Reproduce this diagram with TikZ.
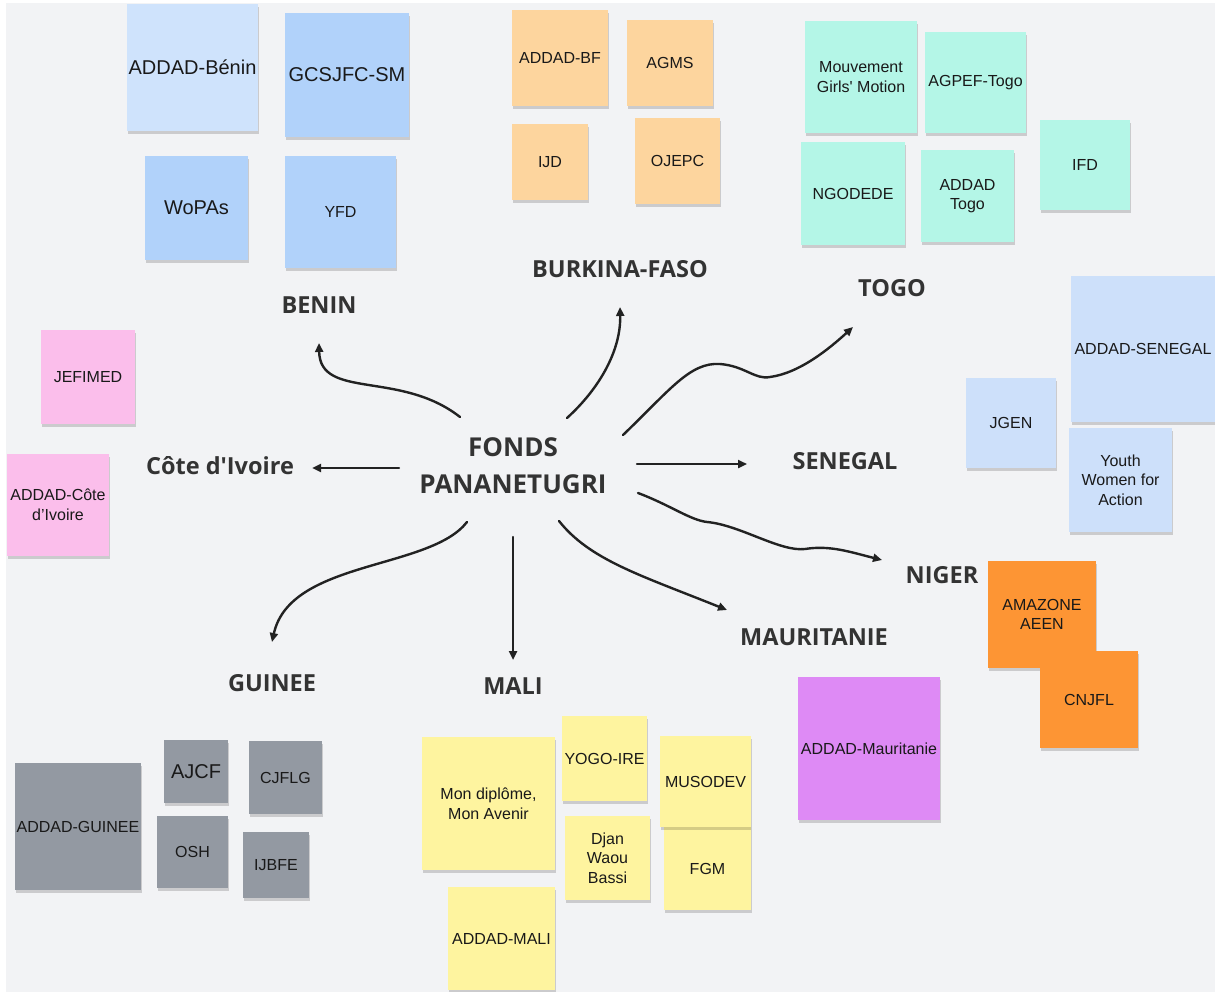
\documentclass[tikz,border=0pt]{standalone}
\usepackage{fontspec}
\setmainfont{Liberation Sans}
\newfontfamily\plainsans{Liberation Sans}
\newfontfamily\labelfont{Open Sans}
\usetikzlibrary{arrows.meta,shadows}
\definecolor{bg}{HTML}{F2F3F5}
\definecolor{bluelight}{HTML}{CFE3FC}
\definecolor{bluemid}{HTML}{B1D2FA}
\definecolor{peach}{HTML}{FDD59E}
\definecolor{mint}{HTML}{B4F6E7}
\definecolor{senblue}{HTML}{CDE0FA}
\definecolor{pinknote}{HTML}{FBBEEB}
\definecolor{orangenote}{HTML}{FD9534}
\definecolor{purplenote}{HTML}{DE8AF5}
\definecolor{graynote}{HTML}{9399A2}
\definecolor{yellownote}{HTML}{FEF49F}
\definecolor{labelgray}{HTML}{333333}
\definecolor{arrowgray}{HTML}{222222}
\tikzset{
  note/.style={draw=none, inner sep=2pt, align=center, text=black!90,
    font=\fontsize{16}{19.5}\selectfont,
    drop shadow={shadow xshift=1pt, shadow yshift=-3pt, fill=black, opacity=0.16}},
  bignote/.style={note, font=\fontsize{20}{24}\selectfont},
  country/.style={font=\labelfont\bfseries\fontsize{23.5}{28}\selectfont, text=labelgray, inner sep=1pt},
  hub/.style={font=\labelfont\bfseries\fontsize{26}{37}\selectfont, text=labelgray, align=center, inner sep=1pt},
  link/.style={draw=arrowgray, line width=2.4pt, line cap=round, -{Triangle[length=9pt,width=8pt]}}
}
\newcommand\stick[7]{%
  \node[#1, fill=#2, minimum width=#5pt, minimum height=#6pt] (#3) at (#4) {#7};}
\begin{document}
\begin{tikzpicture}[x=1pt,y=-1pt]
\useasboundingbox (0,0) rectangle (1215,992);
\fill[white] (0,0) rectangle (1215,992);
\fill[bg] (6,3) rectangle (1215,992);

% BENIN
\stick{bignote}{bluelight}{benA}{192.5,67.5}{129}{127}{ADDAD-Bénin}
\stick{bignote}{bluemid}{benB}{347,75}{124}{124}{GCSJFC-SM}
\stick{bignote}{bluemid}{benC}{196.5,208}{103}{104}{WoPAs}
\stick{note}{bluemid}{benD}{340.5,212}{111}{112}{YFD}

% BURKINA
\stick{note}{peach}{bfA}{560,58}{96}{96}{ADDAD-BF}
\stick{note}{peach}{bfB}{670,63}{86}{86}{AGMS}
\stick{note}{peach}{bfC}{550,162}{76}{76}{IJD}
\stick{note}{peach}{bfD}{677.5,161}{85}{86}{OJEPC}

% TOGO
\stick{note}{mint}{tgA}{861,77}{112}{112}{Mouvement\\{\plainsans Girls' Motion}}
\stick{note}{mint}{tgB}{975.5,82.5}{101}{101}{AGPEF-Togo}
\stick{note}{mint}{tgC}{853,193.5}{104}{103}{NGODEDE}
\stick{note}{mint}{tgD}{967.5,196}{93}{92}{ADDAD\\Togo}
\stick{note}{mint}{tgE}{1085,165}{90}{90}{IFD}

% SENEGAL
\stick{note}{senblue}{snA}{1143,349}{144}{146}{ADDAD-SENEGAL}
\stick{note}{senblue}{snB}{1011,423}{90}{90}{JGEN}
\stick{note}{senblue}{snC}{1120.5,480}{103}{104}{Youth\\Women for\\Action}

% COTE D'IVOIRE
\stick{note}{pinknote}{ciA}{88,377}{94}{94}{JEFIMED}
\stick{note}{pinknote}{ciB}{58,505}{102}{102}{ADDAD-Côte\\d’Ivoire}

% NIGER
\stick{note}{orangenote}{ngA}{1042,614.5}{108}{107}{AMAZONE\\AEEN}
\stick{note}{orangenote}{ngB}{1089,699.5}{98}{97}{CNJFL}

% MAURITANIE
\stick{note}{purplenote}{mrA}{869,748.5}{142}{143}{ADDAD-Mauritanie}

% GUINEE
\stick{note}{graynote}{gnA}{78,826.5}{126}{127}{ADDAD-GUINEE}
\stick{bignote}{graynote}{gnB}{196,771.5}{64}{63}{AJCF}
\stick{note}{graynote}{gnC}{285.5,777.5}{73}{73}{CJFLG}
\stick{note}{graynote}{gnD}{192.5,852}{71}{72}{OSH}
\stick{note}{graynote}{gnE}{276,865}{66}{66}{IJBFE}

% MALI
\stick{note}{yellownote}{mlA}{488.5,803.5}{133}{133}{Mon diplôme,\\Mon Avenir}
\stick{note}{yellownote}{mlB}{604.5,758.5}{85}{85}{YOGO-IRE}
\stick{note}{yellownote}{mlE}{707.5,868.5}{87}{83}{FGM}
\stick{note}{yellownote}{mlC}{705.5,781.5}{91}{91}{MUSODEV}
\stick{note}{yellownote}{mlD}{607.5,858}{85}{84}{Djan\\Waou\\Bassi}
\stick{note}{yellownote}{mlF}{501.5,938.5}{107}{103}{ADDAD-MALI}

% Labels
\node[hub] (hub) at (513,466) {FONDS\\PANANETUGRI};
\node[country] (benin) at (319,305) {BENIN};
\node[country] (burkina) at (620,269) {BURKINA-FASO};
\node[country] (togo) at (892,288) {TOGO};
\node[country] (senegal) at (845,461) {SENEGAL};
\node[country] (ci) at (220,466) {Côte d'Ivoire};
\node[country] (niger) at (942,575) {NIGER};
\node[country] (maur) at (814,637) {MAURITANIE};
\node[country] (guinee) at (272,683) {GUINEE};
\node[country] (mali) at (513,686) {MALI};

% connector ends
\coordinate (sBen) at (460,417);  \coordinate (eBen) at (319,343);
\coordinate (sBf) at (567,418);   \coordinate (eBf) at (620,307);
\coordinate (sTg) at (623,435);   \coordinate (eTg) at (853,327);
\coordinate (sSn) at (637,464);   \coordinate (eSn) at (747,464);
\coordinate (sCi) at (399,468);   \coordinate (eCi) at (312,468);
\coordinate (sNg) at (638,493);   \coordinate (eNg) at (882,560);
\coordinate (sMr) at (559,521);   \coordinate (eMr) at (727,610);
\coordinate (sGn) at (467,522);   \coordinate (eGn) at (272,642);
\coordinate (sMl) at (513,537);   \coordinate (eMl) at (513,660);

\draw[link] (sBen) .. controls (400,370) and (320,400) .. (eBen);
\draw[link] (sBf) .. controls (600,388) and (621,350) .. (eBf);
\draw[link] (sTg) .. controls (670,390) and (690,362) .. (720,364)
   .. controls (745,366) and (755,380) .. (770,377)
   .. controls (800,373) and (830,348) .. (eTg);
\draw[link] (sSn) -- (eSn);
\draw[link] (sCi) -- (eCi);
\draw[link] (sNg) .. controls (670,505) and (690,520) .. (707,522)
   .. controls (740,525) and (780,552) .. (805,549)
   .. controls (830,545) and (850,552) .. (eNg);
\draw[link] (sMr) .. controls (590,560) and (640,575) .. (eMr);
\draw[link] (sGn) .. controls (430,570) and (290,560) .. (eGn);
\draw[link] (sMl) -- (eMl);
\end{tikzpicture}
\end{document}
